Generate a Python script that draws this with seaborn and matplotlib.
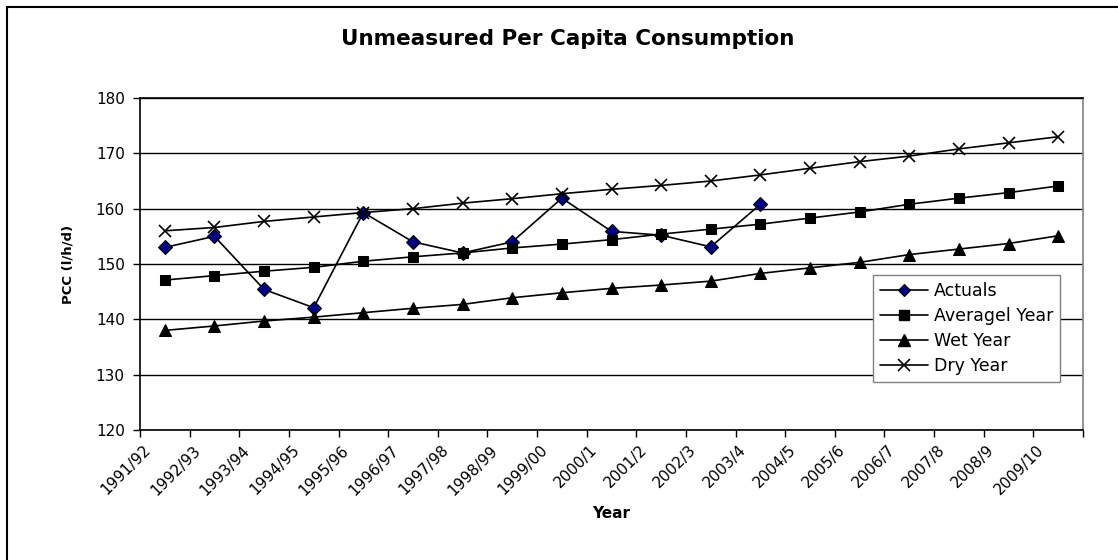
import seaborn as sns
import matplotlib.pyplot as plt
from matplotlib.lines import Line2D
from matplotlib.patches import Rectangle
from matplotlib.transforms import ScaledTranslation
import numpy as np

# chart data
years = ["1991/92", "1992/93", "1993/94", "1994/95", "1995/96", "1996/97",
         "1997/98", "1998/99", "1999/00", "2000/1", "2001/2", "2002/3",
         "2003/4", "2004/5", "2005/6", "2006/7", "2007/8", "2008/9", "2009/10"]
actuals = [153.0, 155.0, 145.4, 142.1, 159.3, 154.0, 152.0, 154.0, 161.9,
           155.9, 155.2, 153.1, 160.8]
average_year = [147.1, 147.9, 148.7, 149.4, 150.5, 151.3, 152.0, 152.9, 153.6,
                154.4, 155.4, 156.3, 157.2, 158.3, 159.4, 160.8, 161.9, 162.9, 164.1]
wet_year = [138.0, 138.8, 139.7, 140.4, 141.2, 142.0, 142.7, 143.9, 144.8,
            145.6, 146.2, 146.9, 148.3, 149.3, 150.3, 151.7, 152.7, 153.7, 155.1]
dry_year = [156.0, 156.6, 157.7, 158.5, 159.3, 160.0, 161.0, 161.8, 162.7,
            163.5, 164.2, 165.0, 166.1, 167.3, 168.5, 169.5, 170.8, 171.9, 173.0]

sns.set_style("white")
plt.rcParams['font.family'] = ['DejaVu Sans']
plt.rcParams.update({"text.color": "black", "axes.labelcolor": "black",
                     "xtick.color": "black", "ytick.color": "black"})

fig = plt.figure(figsize=(11.18, 5.6), dpi=100)
ax = fig.add_axes([140/1118, 1 - 430/560, (1083-140)/1118, (430-98)/560])

xs = np.arange(len(years))
lw = 1.2
sns.lineplot(x=xs[:len(actuals)], y=actuals, ax=ax, color="black", lw=lw,
             marker="D", markersize=7, markerfacecolor="#000080",
             markeredgecolor="black", markeredgewidth=0.8)
sns.lineplot(x=xs, y=average_year, ax=ax, color="black", lw=lw,
             marker="s", markersize=7.5, markeredgecolor="black")
sns.lineplot(x=xs, y=wet_year, ax=ax, color="black", lw=lw,
             marker="^", markersize=8.5, markeredgecolor="black")
sns.lineplot(x=xs, y=dry_year, ax=ax, color="black", lw=lw,
             marker="x", markersize=8, markeredgewidth=1.2,
             markeredgecolor="black")

ax.set_xlim(-0.5, len(years) - 0.5)
ax.set_ylim(120, 180)
ax.set_yticks(range(120, 181, 10))
ax.yaxis.grid(True, color="black", lw=1)
ax.set_axisbelow(True)

# ticks between categories, labels at the categories
ax.set_xticks(np.arange(-0.5, len(years), 1.0), minor=False)
ax.set_xticklabels([])
ax.set_xticks(xs, minor=True)
ax.set_xticklabels(years, minor=True, rotation=45, ha="right", va="top",
                   rotation_mode="anchor", fontsize=11)
ax.tick_params(axis="x", which="minor", length=0, pad=9)
ax.tick_params(axis="x", which="major", direction="out", length=5, width=1,
               color="black", bottom=True)
ax.tick_params(axis="y", direction="out", length=5, width=1, color="black",
               left=True, labelsize=11, pad=6)
shift = ScaledTranslation(-0.22, 0, fig.dpi_scale_trans)
for lab in ax.get_xticklabels(minor=True):
    lab.set_transform(lab.get_transform() + shift)

for side in ["left", "bottom", "top"]:
    ax.spines[side].set_color("black")
    ax.spines[side].set_linewidth(1.2)
ax.spines["right"].set_color("#808080")
ax.spines["right"].set_linewidth(1.2)

ax.set_xlabel("Year", fontsize=11, fontweight="bold", labelpad=6)
ax.set_ylabel("PCC (l/h/d)", fontsize=9.5, fontweight="bold", labelpad=15)
fig.text(568/1118, 1 - 39/560, "Unmeasured Per Capita Consumption",
         ha="center", va="center", fontsize=15.5, fontweight="bold")

handles = [
    Line2D([], [], color="black", lw=lw, marker="D", markersize=6,
           markerfacecolor="#000080", markeredgecolor="black", markeredgewidth=0.8),
    Line2D([], [], color="black", lw=lw, marker="s", markersize=7),
    Line2D([], [], color="black", lw=lw, marker="^", markersize=8),
    Line2D([], [], color="black", lw=lw, marker="x", markersize=8, markeredgewidth=1.2),
]
leg = ax.legend(handles, ["Actuals", "Averagel Year", "Wet Year", "Dry Year"],
                loc="upper left", bbox_to_anchor=(873/1118, 1 - 275/560),
                bbox_transform=fig.transFigure, fontsize=12.5, frameon=True,
                fancybox=False, framealpha=1, edgecolor="#808080",
                handlelength=2.75, handletextpad=0.35, labelspacing=0.4,
                borderpad=0.4, borderaxespad=0)
leg.get_frame().set_linewidth(1.0)

# outer chart border (only left and top edges visible in the frame)
fig.patches.append(Rectangle((7/1118, -0.1), 1.2, 1.1 - 7/560,
                             transform=fig.transFigure, fill=False,
                             edgecolor="black", lw=1.5))

fig.savefig("out.png", dpi=100)
